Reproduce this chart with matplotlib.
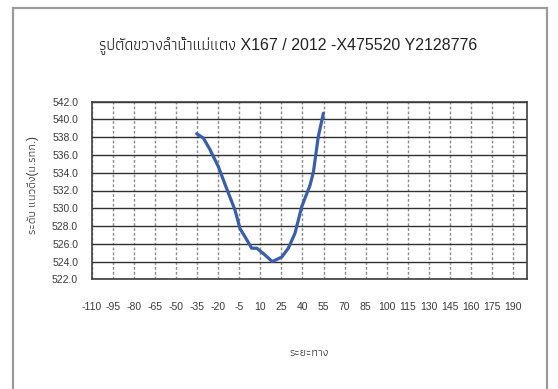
import matplotlib
matplotlib.use("Agg")
import matplotlib.pyplot as plt
from matplotlib import font_manager as fm
from matplotlib.patches import Rectangle

# survey points
dist = [-35.4, -30.6, -25.9, -20.0, -14.0, -8.1, -4.5, -1.0, 3.8, 7.4, 12.1,
        18.5, 25.2, 29.9, 34.7, 39.5, 45.4, 47.8, 51.3, 54.9]
elev = [538.4, 537.9, 536.6, 534.7, 532.2, 529.8, 527.7, 526.8, 525.5, 525.5, 524.9,
        524.0, 524.5, 525.5, 527.2, 530.2, 532.6, 534.1, 538.1, 540.7]

x_ticks = list(range(-110, 191, 15))
y_ticks = [522 + 2 * i for i in range(11)]

title = "รูปตัดขวางลำน้ำแม่แตง X167 / 2012 -X475520 Y2128776"
x_title = "ระยะทาง"
y_title = "ระดับ แนวดิ่ง(ม.รทก.)"

# latin font first, thai glyphs come from the next family
names = {f.name for f in fm.fontManager.ttflist}
thai = "DejaVu Sans"
for cand in ["Athiti", "Noto Sans Thai", "Sarabun", "Chakra Petch", "Bai Jamjuree", "Anuphan"]:
    if cand in names:
        thai = cand
        break
plt.rcParams['font.family'] = ["Liberation Sans", thai, 'DejaVu Sans']
plt.rcParams['axes.unicode_minus'] = False

fig = plt.figure(figsize=(5.58, 3.89), dpi=100)
fig.patches.append(Rectangle((13/558, -0.1), 534/558, 1.1 - 8/389, transform=fig.transFigure,
                             fill=False, edgecolor="#9a9a9a", lw=1.6))

ax = fig.add_axes([92/558, 1 - 279.3/389, 435/558, 177.6/389])
ax.plot(dist, elev, color="#3a5ea8", lw=2.3, solid_capstyle="round")

ax.set_xlim(-110, 200)
ax.set_ylim(522, 542)
ax.set_xticks(x_ticks)
ax.set_yticks(y_ticks)
ax.set_yticklabels([f"{v:.1f}" for v in y_ticks])
ax.tick_params(axis="both", length=0, labelsize=7.5, colors="#3a3a3a")
ax.tick_params(axis="x", pad=16)
ax.tick_params(axis="y", pad=10)

ax.yaxis.grid(True, color="#303030", lw=1.0)
ax.xaxis.grid(True, color="#8a8a8a", lw=1.0, ls=(0, (2, 1.5)))
ax.set_axisbelow(True)
for s in ax.spines.values():
    s.set_color("#404040")
    s.set_linewidth(1.2)

fig.text(288/558, 1 - 45/389, title, ha="center", va="center", fontsize=11.5, color="#222222")
fig.text(309/558, 1 - 353/389, x_title, ha="center", va="center", fontsize=8.5, color="#333333")
fig.text(33/558, 1 - 185/389, y_title, ha="center", va="center", rotation=90, fontsize=8.5, color="#333333")

fig.savefig("out.png", dpi=100)
